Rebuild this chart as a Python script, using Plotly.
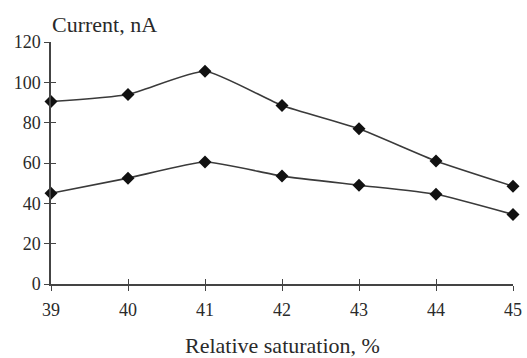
import plotly.graph_objects as go

x_vals = [39, 40, 41, 42, 43, 44, 45]
upper_current = [90.5, 94, 105.5, 88.5, 77, 61, 48.5]
lower_current = [45, 52.5, 60.5, 53.5, 49, 44.5, 34.5]
y_ticks = [0, 20, 40, 60, 80, 100, 120]
x_ticks = [39, 40, 41, 42, 43, 44, 45]

serif = "Liberation Serif, Times New Roman, serif"
fig = go.Figure()
for ys in (upper_current, lower_current):
    fig.add_trace(go.Scatter(
        x=x_vals, y=ys, mode="lines+markers",
        line=dict(color="#3a3a3a", width=1.6, shape="spline", smoothing=0.5),
        marker=dict(symbol="diamond", size=10, color="#111111"),
        cliponaxis=False, showlegend=False,
    ))

tick_common = dict(showgrid=False, zeroline=False, tickcolor="#444444", tickwidth=1.3,
                   ticklen=5, automargin=False)
fig.update_layout(
    template="none",
    width=527, height=358,
    margin=dict(l=51, r=14, t=42, b=74),
    paper_bgcolor="white", plot_bgcolor="white",
    font=dict(family=serif, size=18, color="#2a2a2a"),
    xaxis=dict(range=[39, 45], tickvals=x_ticks, ticks="outside", showline=True,
               linecolor="#444444", linewidth=1.5, ticklabelstandoff=4, **tick_common),
    yaxis=dict(range=[0, 120], tickvals=y_ticks, ticks="outside", showline=True,
               linecolor="#444444", linewidth=1.5, **tick_common),
    xaxis2=dict(range=[39, 45], tickvals=x_ticks, ticks="inside", showticklabels=False,
                overlaying="x", side="bottom", showline=False, **tick_common),
    yaxis2=dict(range=[0, 120], tickvals=y_ticks, ticks="inside", showticklabels=False,
                overlaying="y", side="left", showline=False, **tick_common),
    annotations=[
        dict(text="Current, nA", xref="paper", yref="paper", x=0.0, y=1.0, xanchor="left",
             yanchor="bottom", yshift=3, xshift=-1, showarrow=False, font=dict(size=22, family=serif)),
        dict(text="Relative saturation, %", xref="paper", yref="paper", x=0.5, y=0,
             xanchor="center", yanchor="top", yshift=-47, showarrow=False, font=dict(size=22, family=serif)),
    ],
)
fig.add_trace(go.Scatter(x=[None], y=[None], xaxis="x2", yaxis="y2", showlegend=False, hoverinfo="skip"))
fig.write_html("out.html", config={"displayModeBar": False},
               post_script="document.body.style.margin='0';document.body.style.overflow='hidden';")
